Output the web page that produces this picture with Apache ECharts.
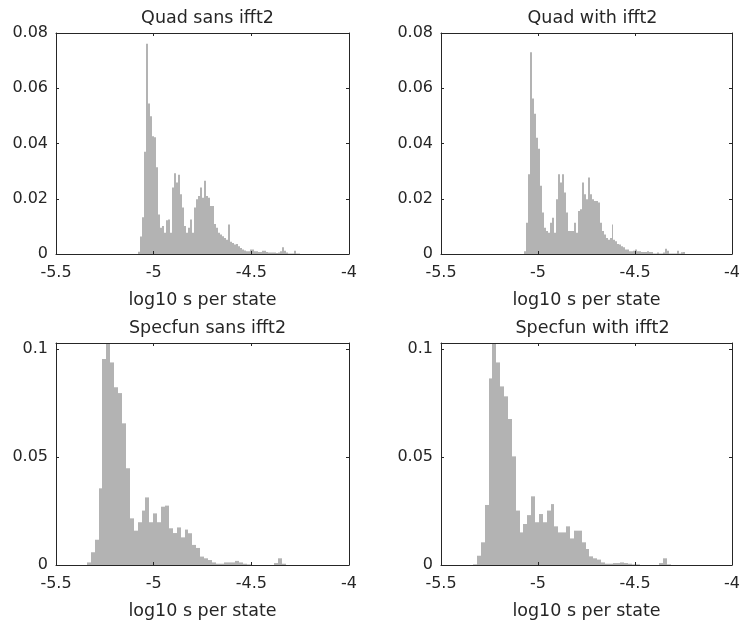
<!DOCTYPE html>
<html><head><meta charset="utf-8">
<script src="https://cdn.jsdelivr.net/npm/echarts@6/dist/echarts.min.js"></script>
<style>html,body{margin:0;padding:0;background:#fff}#c{width:743px;height:628px}</style>
</head><body><div id="c"></div>
<script>
// ---- data ----
const panelTitles = ['Quad sans ifft2', 'Quad with ifft2', 'Specfun sans ifft2', 'Specfun with ifft2'];
const xLabel = 'log10 s per state';
const xTicks = [-5.5, -5, -4.5, -4];
const yTicksTop = [0, 0.02, 0.04, 0.06, 0.08];
const yTicksBottom = [0, 0.05, 0.1];
const yMaxBottom = 0.1028;

// histogram bins: first edge and width (log10 s per state)
const quadSansStart = -5.079, quadWithStart = -5.0717, quadBinWidth = 0.01024;
const specSansStart = -5.342, specWithStart = -5.335, specBinWidth = 0.02;

const quadSans = [0.0008, 0.0063, 0.0133, 0.0370, 0.0761, 0.0545, 0.0499, 0.0426, 0.0423, 0.0314,
  0.0143, 0.0095, 0.0101, 0.0077, 0.0122, 0.0125, 0.0077, 0.0241, 0.0292, 0.0259,
  0.0287, 0.0216, 0.0168, 0.0101, 0.0077, 0.0095, 0.0125, 0.0077, 0.0168, 0.0198,
  0.0210, 0.0241, 0.0204, 0.0265, 0.0210, 0.0204, 0.0174, 0.0174, 0.0109, 0.0095,
  0.0077, 0.0071, 0.0064, 0.0058, 0.0052, 0.0107, 0.0044, 0.0040, 0.0034, 0.0036,
  0.0028, 0.0022, 0.0016, 0.0013, 0.0010, 0.0010, 0.0016, 0.0016, 0.0010, 0.0010,
  0.0007, 0.0007, 0.0012, 0.0012, 0.0007, 0.0005, 0.0005, 0.0005, 0.0005, 0.0004,
  0.0005, 0.0010, 0.0024, 0.0012, 0.0005, 0.0002, 0.0002, 0.0002, 0.0012, 0.0002, 0.0002];

const quadWith = [0.0010, 0.0113, 0.0289, 0.0730, 0.0563, 0.0508, 0.0421, 0.0381, 0.0247, 0.0150,
  0.0095, 0.0083, 0.0077, 0.0113, 0.0131, 0.0077, 0.0198, 0.0289, 0.0259, 0.0289,
  0.0223, 0.0150, 0.0083, 0.0083, 0.0083, 0.0113, 0.0077, 0.0156, 0.0162, 0.0259,
  0.0216, 0.0198, 0.0277, 0.0216, 0.0198, 0.0192, 0.0192, 0.0186, 0.0113, 0.0083,
  0.0071, 0.0058, 0.0052, 0.0058, 0.0107, 0.0052, 0.0046, 0.0036, 0.0034, 0.0028,
  0.0024, 0.0016, 0.0016, 0.0010, 0.0010, 0.0012, 0.0016, 0.0010, 0.0010, 0.0007,
  0.0007, 0.0007, 0.0010, 0.0007, 0.0007, 0.0002, 0.0002, 0.0005, 0.0002, 0.0002,
  0.0005, 0.0019, 0.0012, 0.0002, 0.0002, 0.0002, 0.0002, 0.0012, 0.0002, 0.0006, 0.0007];

const specSans = [0.0012, 0.0059, 0.0117, 0.0355, 0.0954, 0.1028, 0.0938, 0.0823, 0.0796, 0.0656,
  0.0448, 0.0216, 0.0159, 0.0198, 0.0252, 0.0313, 0.0198, 0.0239, 0.0198, 0.0270,
  0.0275, 0.0170, 0.0148, 0.0174, 0.0128, 0.0164, 0.0147, 0.0093, 0.0079, 0.0039,
  0.0031, 0.0023, 0.0012, 0.0006, 0.0006, 0.0012, 0.0012, 0.0012, 0.0019, 0.0012,
  0.0006, 0.0003, 0, 0, 0, 0, 0, 0, 0.0009, 0.0031, 0.0006];

const specWith = [0.0003, 0.0043, 0.0105, 0.0278, 0.0864, 0.1028, 0.0938, 0.0827, 0.0781, 0.0676,
  0.0503, 0.0252, 0.0151, 0.0190, 0.0231, 0.0318, 0.0198, 0.0236, 0.0198, 0.0252,
  0.0282, 0.0179, 0.0151, 0.0151, 0.0179, 0.0123, 0.0159, 0.0159, 0.0105, 0.0074,
  0.0040, 0.0031, 0.0025, 0.0012, 0.0006, 0.0006, 0.0009, 0.0009, 0.0012, 0.0009,
  0.0006, 0.0003, 0.0003, 0, 0, 0, 0, 0, 0.0009, 0.0031, 0.0003];

// ---- chart ----
const FONT = 'DejaVu Sans';
const INK = '#262626';
const BAR = '#b3b3b3';

const panels = [
  {values: quadSans, start: quadSansStart, width: quadBinWidth, yMax: 0.08, yInt: 0.02, yTicks: yTicksTop, grid: {left: 56, top: 33, width: 293, height: 221}},
  {values: quadWith, start: quadWithStart, width: quadBinWidth, yMax: 0.08, yInt: 0.02, yTicks: yTicksTop, grid: {left: 441, top: 33, width: 293, height: 221}},
  {values: specSans, start: specSansStart, width: specBinWidth, yMax: yMaxBottom, yInt: 0.05, yTicks: yTicksBottom, grid: {left: 56, top: 343, width: 293, height: 222}},
  {values: specWith, start: specWithStart, width: specBinWidth, yMax: yMaxBottom, yInt: 0.05, yTicks: yTicksBottom, grid: {left: 441, top: 343, width: 293, height: 222}}
];

function isTick(v, list) { return list.some(t => Math.abs(t - v) < 1e-9); }

function renderItem(params, api) {
  const h = api.value(2);
  if (!(h > 0)) return null;
  const p0 = api.coord([api.value(0), h]);
  const p1 = api.coord([api.value(1), 0]);
  const xa = Math.round(p0[0]), xb = Math.round(p1[0]);
  return {
    type: 'rect',
    shape: {x: xa, y: p0[1], width: Math.max(1, xb - xa), height: p1[1] - p0[1]},
    style: {fill: BAR}
  };
}

const option = {
  animation: false,
  backgroundColor: '#fff',
  title: [], grid: [], xAxis: [], yAxis: [], series: []
};

const lineStyle = {color: INK, width: 1};
panels.forEach((p, i) => {
  const g = p.grid;
  option.grid.push(Object.assign({containLabel: false}, g));
  option.title.push({
    text: panelTitles[i], left: g.left + g.width / 2, top: g.top - 29, textAlign: 'center',
    textStyle: {fontFamily: FONT, fontSize: 17.5, fontWeight: 'normal', color: INK}
  });
  const xCommon = {gridIndex: i, type: 'value', min: -5.5, max: -4, interval: 0.5, z: 5,
    axisLine: {show: true, onZero: false, lineStyle}, splitLine: {show: false},
    axisTick: {show: true, inside: true, length: 3, lineStyle}};
  option.xAxis.push(Object.assign({}, xCommon, {
    position: 'bottom',
    axisLabel: {show: true, fontFamily: FONT, fontSize: 16, color: INK, margin: 11,
      formatter: v => isTick(v, xTicks) ? String(v) : ''},
    name: xLabel, nameLocation: 'middle', nameGap: 37,
    nameTextStyle: {fontFamily: FONT, fontSize: 17.5, color: INK}
  }));
  option.xAxis.push(Object.assign({}, xCommon, {position: 'top', axisLabel: {show: false}}));
  const yCommon = {gridIndex: i, type: 'value', min: 0, max: p.yMax, interval: p.yInt, z: 5,
    axisLine: {show: true, onZero: false, lineStyle}, splitLine: {show: false},
    axisTick: {show: true, inside: true, length: 3, lineStyle}};
  option.yAxis.push(Object.assign({}, yCommon, {
    position: 'left',
    axisLabel: {show: true, fontFamily: FONT, fontSize: 16, color: INK, margin: 8,
      formatter: v => isTick(v, p.yTicks) ? String(+v.toFixed(4)) : ''}
  }));
  option.yAxis.push(Object.assign({}, yCommon, {position: 'right', axisLabel: {show: false}}));
  option.series.push({
    type: 'custom', xAxisIndex: 2 * i, yAxisIndex: 2 * i, renderItem,
    encode: {x: [0, 1], y: 2},
    data: p.values.map((v, k) => [p.start + k * p.width, p.start + (k + 1) * p.width, v])
  });
});

const chart = echarts.init(document.getElementById('c'), null, {renderer: 'canvas'});
chart.setOption(option);
</script>
</body></html>
